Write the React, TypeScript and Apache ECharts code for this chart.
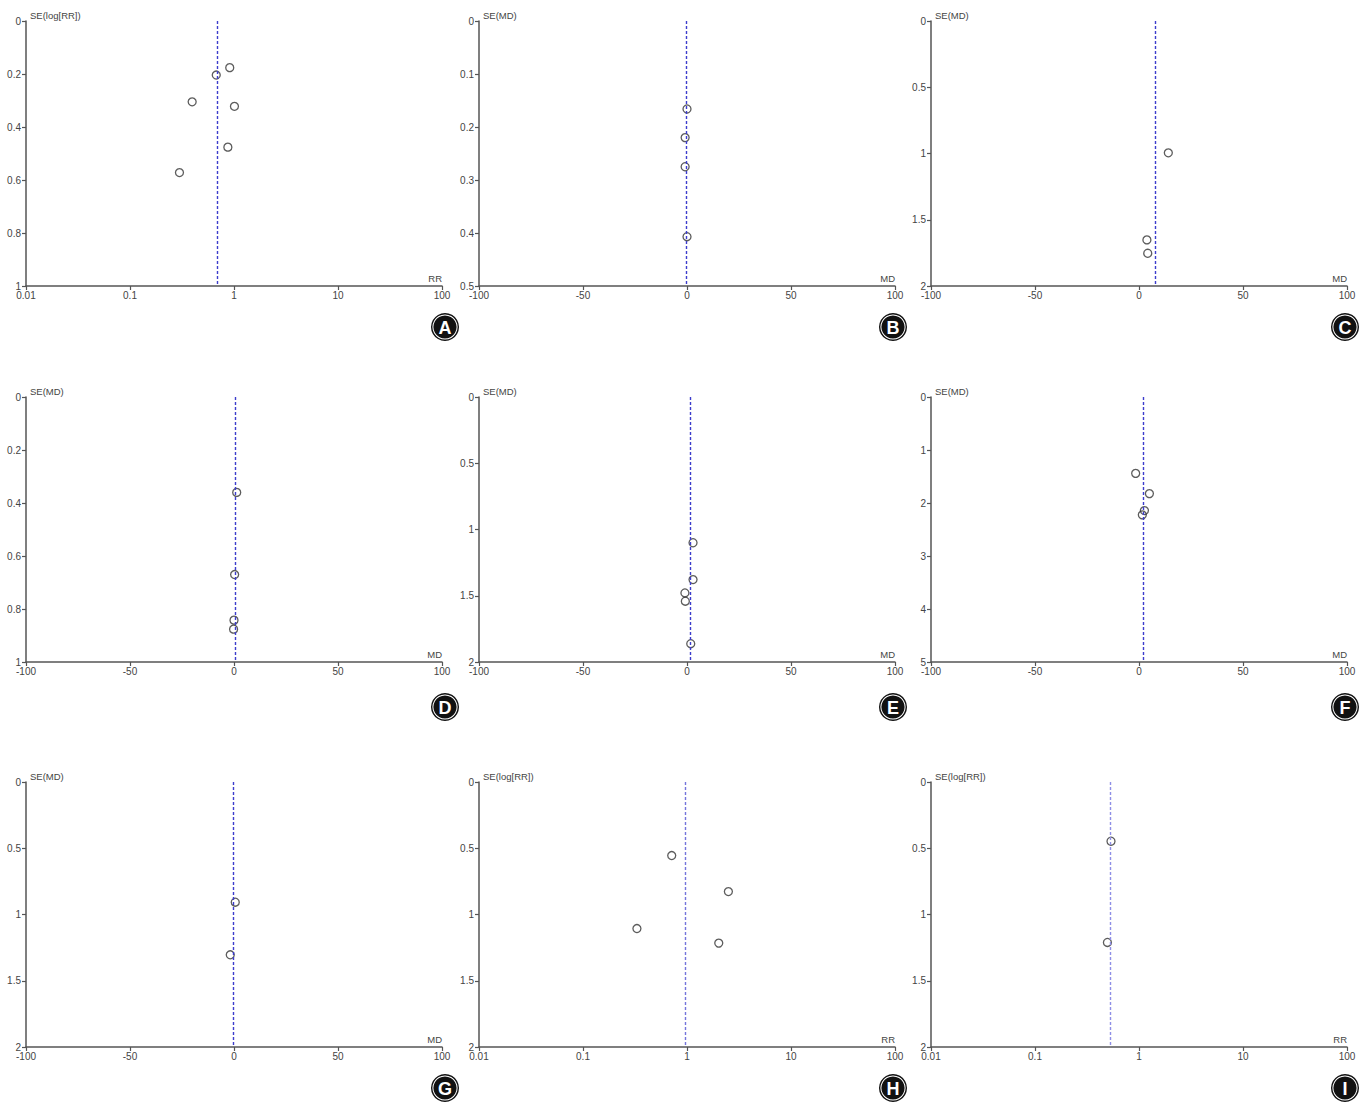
import React, { useEffect, useRef } from "react";
import * as echarts from "echarts";

// ---- Data ----
// Panel A: RR vs SE(log[RR])
const aEffect = [0.91, 0.675, 0.396, 1.01, 0.873, 0.299];
const aSE = [0.176, 0.204, 0.305, 0.322, 0.476, 0.572];
const aPooled = 0.69;
// Panel B: MD vs SE(MD)
const bEffect = [0.0, -0.9, -0.9, 0.0];
const bSE = [0.166, 0.22, 0.275, 0.407];
const bPooled = -0.6;
// Panel C
const cEffect = [14.1, 3.8, 4.2];
const cSE = [0.995, 1.652, 1.753];
const cPooled = 7.7;
// Panel D
const dEffect = [1.3, 0.3, 0.0, -0.2];
const dSE = [0.36, 0.67, 0.842, 0.876];
const dPooled = 0.8;
// Panel E
const eEffect = [2.9, 2.9, -1.0, -0.8, 1.8];
const eSE = [1.1, 1.378, 1.479, 1.541, 1.862];
const ePooled = 1.6;
// Panel F
const fEffect = [-1.6, 5.0, 2.6, 1.6];
const fSE = [1.441, 1.823, 2.143, 2.224];
const fPooled = 2.1;
// Panel G
const gEffect = [0.6, -1.8];
const gSE = [0.907, 1.304];
const gPooled = -0.3;
// Panel H: RR
const hEffect = [0.713, 2.5, 0.33, 2.02];
const hSE = [0.555, 0.827, 1.106, 1.216];
const hPooled = 0.96;
// Panel I: RR
const iEffect = [0.538, 0.497];
const iSE = [0.447, 1.211];
const iPooled = 0.534;

// axis tick settings (labels)
const seMax = [1, 0.5, 2, 1, 2, 5, 2, 2, 2];
const seStep = [0.2, 0.1, 0.5, 0.2, 0.5, 1, 0.5, 0.5, 0.5];
const letters = ["A", "B", "C", "D", "E", "F", "G", "H", "I"];
const isRR = [true, false, false, false, false, false, false, true, true];
const effects = [aEffect, bEffect, cEffect, dEffect, eEffect, fEffect, gEffect, hEffect, iEffect];
const ses = [aSE, bSE, cSE, dSE, eSE, fSE, gSE, hSE, iSE];
const pooled = [aPooled, bPooled, cPooled, dPooled, ePooled, fPooled, gPooled, hPooled, iPooled];

// ---- Layout ----
const colLeft = [26, 479, 931];
const rowTop = [21, 397, 782];
const gridW = 416;
const gridH = 265;
const badgeX = [445, 893, 1345];
const badgeY = [327, 707, 1088];
const lineColors = ["#3c3ccc", "#3c3ccc", "#3c3ccc", "#3c3ccc", "#3c3ccc", "#3c3ccc", "#3c3ccc", "#7474dc", "#8e8ee6"];

const FONT = "Liberation Sans, Arial, sans-serif";
const AXIS_COLOR = "#555";
const TEXT_COLOR = "#444";

export default function App() {
  const ref = useRef<HTMLDivElement>(null);

  useEffect(() => {
    document.body.style.margin = "0";
    if (!ref.current) return;
    const chart = echarts.init(ref.current, undefined, { renderer: "svg" });

    const grids: any[] = [];
    const xAxes: any[] = [];
    const yAxes: any[] = [];
    const series: any[] = [];
    const graphics: any[] = [];

    for (let i = 0; i < 9; i++) {
      const r = Math.floor(i / 3);
      const c = i % 3;
      grids.push({ left: colLeft[c], top: rowTop[r], width: gridW, height: gridH, containLabel: false });

      const axisCommon = {
        axisLine: { show: true, onZero: false, lineStyle: { color: AXIS_COLOR, width: 1.5 } },
        axisTick: { show: true, length: 4, lineStyle: { color: AXIS_COLOR, width: 1.2 } },
        splitLine: { show: false },
        axisLabel: { color: TEXT_COLOR, fontSize: 10, fontFamily: FONT },
      };

      if (isRR[i]) {
        xAxes.push({
          ...axisCommon,
          gridIndex: i,
          type: "log",
          logBase: 10,
          min: 0.01,
          max: 100,
          axisLabel: { ...axisCommon.axisLabel, margin: 4, formatter: (v: number) => String(Number(v.toPrecision(3))) },
          name: "RR",
          nameLocation: "end",
          nameGap: 0,
          nameTextStyle: { color: TEXT_COLOR, fontSize: 9.5, fontFamily: FONT, align: "right", verticalAlign: "bottom", padding: [0, 0, 3, 0] },
        });
      } else {
        xAxes.push({
          ...axisCommon,
          gridIndex: i,
          type: "value",
          min: -100,
          max: 100,
          interval: 50,
          axisLabel: { ...axisCommon.axisLabel, margin: 4 },
          name: "MD",
          nameLocation: "end",
          nameGap: 0,
          nameTextStyle: { color: TEXT_COLOR, fontSize: 9.5, fontFamily: FONT, align: "right", verticalAlign: "bottom", padding: [0, 0, 3, 0] },
        });
      }

      yAxes.push({
        ...axisCommon,
        gridIndex: i,
        type: "value",
        inverse: true,
        min: 0,
        max: seMax[i],
        interval: seStep[i],
        axisLabel: { ...axisCommon.axisLabel, margin: 5 },
        name: isRR[i] ? "SE(log[RR])" : "SE(MD)",
        nameLocation: "start",
        nameGap: 6,
        nameTextStyle: { color: TEXT_COLOR, fontSize: 9.5, fontFamily: FONT, align: "left", verticalAlign: "middle", padding: [0, 0, 0, 4] },
      });

      series.push({
        type: "scatter",
        xAxisIndex: i,
        yAxisIndex: i,
        symbol: "circle",
        symbolSize: 8,
        itemStyle: { color: "rgba(255,255,255,0)", borderColor: "#333", borderWidth: 1.3 },
        data: effects[i].map((x, k) => [x, ses[i][k]]),
        markLine: {
          silent: true,
          symbol: ["none", "none"],
          label: { show: false },
          lineStyle: { color: lineColors[i], type: [3, 2], width: 1.4 },
          data: [{ xAxis: pooled[i] }],
        },
        z: 3,
      });

      graphics.push({
        type: "group",
        x: badgeX[c],
        y: badgeY[r],
        children: [
          { type: "circle", shape: { cx: 0, cy: 0, r: 14 }, style: { fill: "#111" } },
          { type: "ring", shape: { cx: 0, cy: 0, r: 12.6, r0: 11.6 }, style: { fill: "#fff" } },
          {
            type: "text",
            style: {
              text: letters[i],
              x: 0,
              y: 0.5,
              fill: "#fff",
              font: `bold 18px ${FONT}`,
              align: "center",
              verticalAlign: "middle",
            },
          },
        ],
      });
    }

    chart.setOption({
      animation: false,
      backgroundColor: "#fff",
      grid: grids,
      xAxis: xAxes,
      yAxis: yAxes,
      series,
      graphic: graphics,
    });

    return () => chart.dispose();
  }, []);

  return <div ref={ref} style={{ width: 1368, height: 1103 }} />;
}
